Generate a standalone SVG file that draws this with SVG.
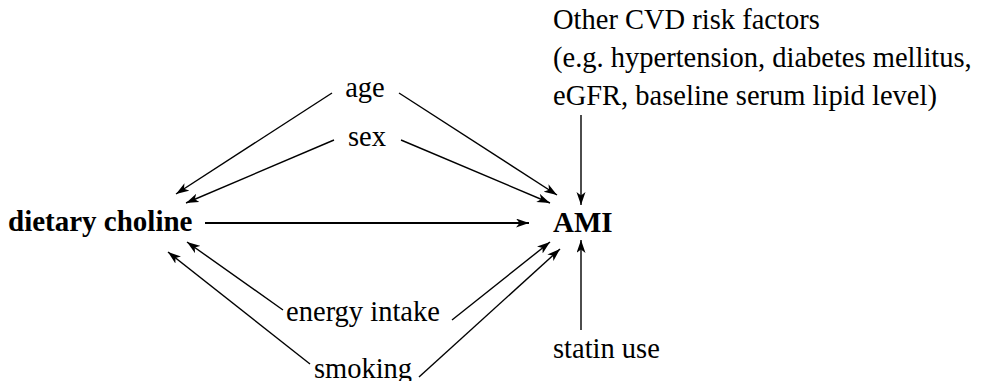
<svg xmlns="http://www.w3.org/2000/svg" width="985" height="381" viewBox="0 0 985 381">
<style>
text{font-family:"Liberation Serif","Times New Roman",serif;font-size:28.5px;fill:#000}
.b{font-weight:bold;font-size:29px}
.e{stroke:#000;stroke-width:1.4;fill:none;marker-end:url(#ah)}
</style>
<defs>
<marker id="ah" markerWidth="14" markerHeight="10" refX="13" refY="4.5" orient="auto" markerUnits="userSpaceOnUse">
<path d="M0,0 L13,4.5 L0,9 L3.5,4.5 z" fill="#000"/>
</marker>
</defs>
<rect width="985" height="381" fill="#fff"/>
<g id="edges">
<line class="e" x1="332" y1="93" x2="176" y2="194"/>
<line class="e" x1="399" y1="93" x2="557" y2="195"/>
<line class="e" x1="334" y1="140" x2="186" y2="203"/>
<line class="e" x1="401" y1="140" x2="550" y2="203"/>
<line class="e" x1="205" y1="223" x2="529" y2="223" style="stroke-width:2"/>
<line class="e" x1="581" y1="115" x2="581" y2="205"/>
<line class="e" x1="283" y1="310" x2="187" y2="242"/>
<line class="e" x1="310" y1="364" x2="168" y2="252"/>
<line class="e" x1="452" y1="320" x2="550" y2="242"/>
<line class="e" x1="419" y1="377" x2="560" y2="249"/>
<line class="e" x1="581" y1="330" x2="581" y2="240"/>
</g>
<g id="age"><text x="365" y="97" text-anchor="middle">age</text></g>
<g id="sex"><text x="367" y="146" text-anchor="middle">sex</text></g>
<g id="choline"><text class="b" x="8" y="231">dietary choline</text></g>
<g id="ami"><text class="b" x="553" y="232">AMI</text></g>
<g id="other"><text x="553" y="29">Other CVD risk factors</text><text x="553" y="67">(e.g. hypertension, diabetes mellitus,</text><text x="553" y="105">eGFR, baseline serum lipid level)</text></g>
<g id="energy"><text x="363" y="321" text-anchor="middle">energy intake</text></g>
<g id="smoking"><text x="363" y="378" text-anchor="middle">smoking</text></g>
<g id="statin"><text x="553" y="358">statin use</text></g>
</svg>
